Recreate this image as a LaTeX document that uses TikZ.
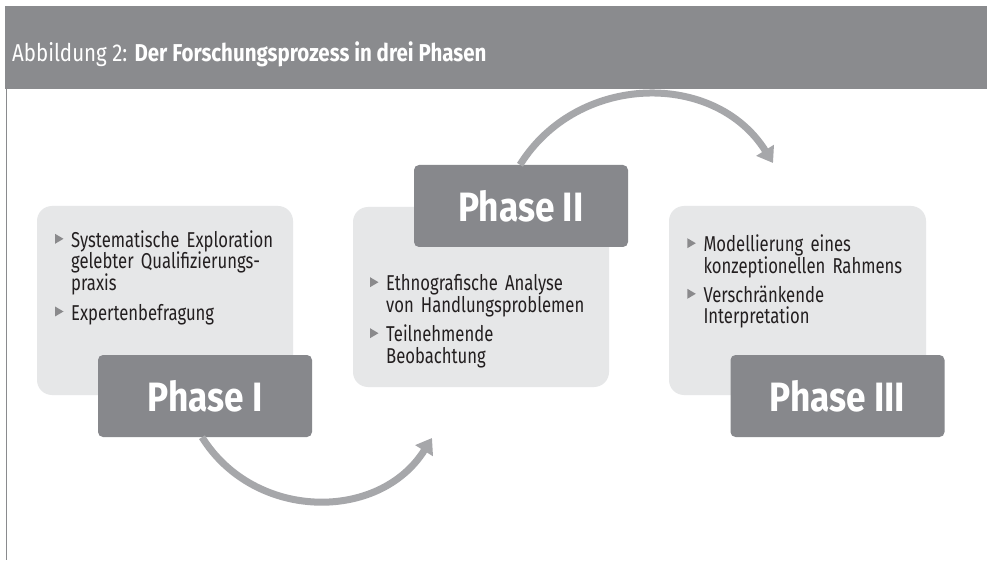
\documentclass[tikz,border=0pt]{standalone}
\usepackage{fontspec}
\setmainfont[FakeStretch=0.86]{Fira Sans}
\newfontfamily\bodyfont[FakeStretch=0.775]{Fira Sans}
\newfontfamily\titlefont[FakeStretch=0.84]{Fira Sans}
\usetikzlibrary{arrows.meta,calc}
\definecolor{band}{HTML}{8A8B8E}
\definecolor{phasegray}{HTML}{87888C}
\definecolor{lightbox}{HTML}{E6E7E8}
\definecolor{arrowgray}{HTML}{A6A7AA}
\definecolor{bulgray}{HTML}{8A8A8C}
\definecolor{txt}{HTML}{231F20}
\tikzset{
  panel/.style={fill=lightbox, rounded corners=15pt, inner sep=0pt, draw=none},
  phasebox/.style={fill=phasegray, rounded corners=5pt, inner sep=0pt, text=white,
    font=\fontsize{41}{41}\selectfont\bfseries, minimum width=214pt, minimum height=82pt},
  item/.style={anchor=base west, inner sep=0pt, align=left, text=txt, text width=240pt,
    font=\bodyfont\fontsize{21.5}{21.7}\selectfont},
  bullet/.style={fill=bulgray},
  arr/.style={draw=arrowgray, line width=7pt, -{Triangle[width=20pt,length=15pt]}, looseness=1.1},
}
\newcommand{\tribul}[1]{\fill[bullet] ($(#1.base west)+(-16,3.5)$) -- ++(0,10) -- ++(8.5,-5) -- cycle;}
\begin{document}
\begin{tikzpicture}[x=1pt,y=1pt]
\useasboundingbox (0,0) rectangle (987,560);
\fill[white] (0,0) rectangle (987,560);
% header band and frame line
\fill[band] (5,471) rectangle (987,554);
\draw[band, line width=1.5pt] (6.5,471) -- (6.5,0);
\node[anchor=base west, inner sep=0pt, text=white, font=\titlefont\fontsize{24.4}{28}\selectfont] (title) at (12,498)
  {Abbildung 2: \textbf{Der Forschungsprozess in drei Phasen}};

% light panels
\node[panel, minimum width=256pt, minimum height=189pt] (b1) at (165,259.5) {};
\node[panel, minimum width=256pt, minimum height=180pt] (b2) at (481,263) {};
\node[panel, minimum width=257pt, minimum height=189pt] (b3) at (797.5,259.5) {};

% items
\node[item] (i11) at (71,312.7) {Systematische Exploration\\gelebter Qualifizierungs-\\praxis};
\node[item] (i12) at (71,240) {Expertenbefragung};
\node[item] (i21) at (386,269.3) {Ethnografische Analyse\\von Handlungsproblemen};
\node[item] (i22) at (386,218.3) {Teilnehmende\\Beobachtung};
\node[item] (i31) at (703.3,308.3) {Modellierung eines\\konzeptionellen Rahmens};
\node[item] (i32) at (703.3,257.7) {Verschränkende\\Interpretation};
\tribul{i11}\tribul{i12}\tribul{i21}\tribul{i22}\tribul{i31}\tribul{i32}

% phase boxes
\node[phasebox] (p1) at (205,164) {Phase I};
\node[phasebox] (p2) at (521,354) {Phase II};
\node[phasebox] (p3) at (837.5,164) {Phase III};

% arrows
\coordinate (a1e) at (432,122);
\coordinate (a2e) at (773,397);
\draw[arr] ([xshift=-3pt]p1.south) to[out=-58,in=-122] (a1e);
\draw[arr] ([xshift=-1pt]p2.north) to[out=58,in=122] (a2e);
\end{tikzpicture}
\end{document}
